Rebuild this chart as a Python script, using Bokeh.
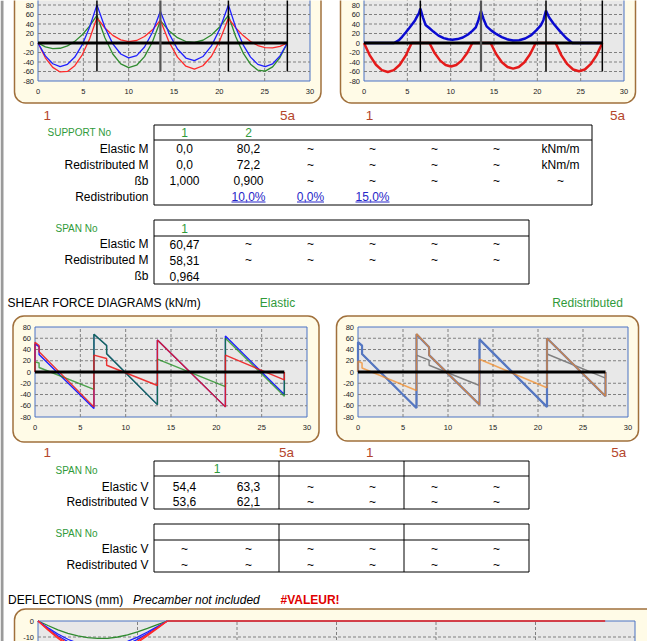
from bokeh.plotting import figure
from bokeh.models import Range1d
from bokeh.embed import file_html
from bokeh.resources import INLINE
from bokeh.core.properties import value

# ---------------- DATA ----------------
SUPPORTS = [0, 6.5, 13.5, 21.0, 27.5]
X_TICKS = [0, 5, 10, 15, 20, 25, 30]
Y_TICKS = [80, 60, 40, 20, 0, -20, -40, -60, -80]
GRID_Y = [-60, -40, -20, 20, 40, 60, 80]
GRID_X = [5, 10, 15, 20, 25]

# Bending moment, elastic (kNm/m)
M_X = [0, 0.81, 1.63, 2.44, 3.25, 4.06, 4.88, 5.69, 6.5,
       7.38, 8.25, 9.13, 10.0, 10.88, 11.75, 12.63, 13.5,
       14.44, 15.38, 16.31, 17.25, 18.19, 19.13, 20.06, 21.0,
       21.81, 22.63, 23.44, 24.25, 25.06, 25.88, 26.69, 27.5]
M_EL_RED = [0, -31.1, -51.4, -61.0, -59.8, -47.7, -24.9, 8.6, 53,
            31.6, 16.1, 6.6, 3.0, 5.3, 13.6, 27.8, 48,
            2.6, -29.8, -48.9, -55.0, -47.9, -27.8, 5.6, 52,
            31.8, 15.6, 3.2, -5.3, -9.8, -10.4, -7.2, 0]
M_EL_BLUE = [0, -27.2, -43.7, -49.6, -44.9, -29.6, -3.6, 33.0, 80.2,
             32.6, -1.9, -23.2, -31.4, -26.5, -8.5, 22.7, 67,
             20.3, -12.6, -31.7, -37.0, -28.5, -6.1, 30.0, 80,
             32.8, -3.8, -29.7, -45.0, -49.7, -43.8, -27.2, 0]
M_EL_GREEN = [0, -8.1, -11.8, -11.1, -6.0, 3.4, 17.3, 35.4, 58,
              10.9, -23.1, -44.1, -52.0, -46.8, -28.6, 2.7, 47,
              26.0, 11.3, 3.1, 1.3, 5.8, 16.8, 34.2, 58,
              13.0, -21.2, -44.6, -57.3, -59.1, -50.2, -30.5, 0]

# Bending moment, redistributed envelopes
MR_POS_X = [0, 3.46, 4.04, 4.4, 4.81, 5.2, 5.58, 5.9, 6.16, 6.35, 6.5,
            6.8, 7.1, 7.5, 8.0, 8.6, 9.2, 9.7, 10.2, 10.8, 11.4, 12.0, 12.5, 12.9, 13.2, 13.5,
            13.8, 14.15, 14.7, 15.3, 15.9, 16.5, 17.2, 17.9, 18.6, 19.3, 19.9, 20.4, 20.7, 21.0,
            21.35, 21.9, 22.6, 23.3, 24.03, 27.5]
MR_POS_Y = [0, 0, 6, 13, 22, 31, 40, 48, 57, 63, 72.2,
            54, 38, 32, 24, 15.5, 10.3, 7.8, 7, 8.2, 11.5, 18, 25.5, 33, 48, 67,
            50, 35, 26, 18.5, 12.5, 8, 5.2, 5.8, 9.5, 16.5, 27, 37, 48, 68,
            54, 40, 25, 11, 0, 0]
MR_NEG_X = [0, 0.69, 1.38, 2.06, 2.75, 3.44, 4.13, 4.81, 5.5,
            7.55, 8.17, 8.79, 9.41, 10.03, 10.64, 11.26, 11.88, 12.5,
            14.61, 15.26, 15.91, 16.56, 17.21, 17.86, 18.51, 19.16, 19.81,
            22.11, 22.78, 23.46, 24.13, 24.81, 25.48, 26.15, 26.83, 27.5]
MR_NEG_Y = [0, -26.7, -45.8, -57.2, -61.0, -57.2, -45.8, -26.7, 0,
            0, -21.7, -37.1, -46.4, -49.5, -46.4, -37.1, -21.7, 0,
            0, -23.6, -40.5, -50.6, -54.0, -50.6, -40.5, -23.6, 0,
            0, -26.0, -44.6, -55.8, -59.5, -55.8, -44.6, -26.0, 0]

# Shear force (kN/m)
V_X = [0, 0, 0.45, 0.45, 6.5, 6.5, 7.9, 7.9, 13.5, 13.5, 21.0, 21.0, 27.5, 27.5]
V_EL_RED = [0, 53, 47, 36, -62, 30, 24, 12, -24, 57, -62, 30, -14, 0]
V_EL_BLUE = [0, 50, 45, 31, -65, 67, 47, 32.5, -58, 57, -62, 64, -40, 0]
V_EL_GREEN = [0, 18, 16, 8, -31, 67, 47, 32.5, -58, 23, -26, 60, -43, 0]
V_RD_GREY = [0, 53, 47, 32, -64, 30, 21, 12, -24, 58, -62, 32, -11, 0]
V_RD_BLUE = [0, 53, 47, 32, -64, 67, 44, 30, -58, 58, -62, 60, -43, 0]
V_RD_ORANGE = [0, 19, 16, 7, -33, 68, 44, 30, -58, 22.5, -28, 60, -43, 0]

# Deflections (mm), span 1 only
D_X = [0, 0.5, 1.0, 1.5, 2.0, 2.5, 3.0, 3.5, 4.0, 4.5, 5.0, 5.5, 6.0, 6.5]
D_GREEN = [0, -2.8, -5.5, -7.7, -9.3, -10.4, -10.9, -10.8, -10.0, -8.7, -6.8, -4.6, -2.3, 0]
D_BLUE_A = [0, -4.8, -9.2, -12.9, -15.8, -17.6, -18.3, -18.0, -16.7, -14.5, -11.5, -7.8, -3.9, 0]
D_BLUE_B = [0, -4.2, -8.1, -11.4, -13.9, -15.5, -16.1, -15.8, -14.7, -12.7, -10.1, -6.9, -3.5, 0]
D_RED_A = [0, -5.6, -10.8, -15.2, -18.6, -20.7, -21.5, -21.1, -19.6, -17.0, -13.5, -9.2, -4.6, 0]
D_RED_B = [0, -5.2, -10.0, -14.0, -17.1, -19.1, -19.8, -19.4, -18.1, -15.7, -12.5, -8.5, -4.3, 0]
D_FLAT_X = [6.5, 28.5]
D_FLAT_Y = [0, 0]
D_TICKS = [0, -10]

# Tables
SUP_HEAD = ["1", "2"]
SUP_ROWS = ["Elastic M", "Redistributed M", "ßb", "Redistribution"]
SUP_ELASTIC = ["0,0", "80,2", "~", "~", "~", "~", "kNm/m"]
SUP_REDIST = ["0,0", "72,2", "~", "~", "~", "~", "kNm/m"]
SUP_BETA = ["1,000", "0,900", "~", "~", "~", "~", "~"]
SUP_PCT = ["10,0%", "0,0%", "15,0%"]
SPANM_HEAD = ["1"]
SPANM_ROWS = ["Elastic M", "Redistributed M", "ßb"]
SPANM_ELASTIC = ["60,47", "~", "~", "~", "~", "~"]
SPANM_REDIST = ["58,31", "~", "~", "~", "~", "~"]
SPANM_BETA = ["0,964"]
V_ROWS = ["Elastic V", "Redistributed V"]
V1_HEAD = ["1"]
V1_ELASTIC = ["54,4", "63,3", "~", "~", "~", "~"]
V1_REDIST = ["53,6", "62,1", "~", "~", "~", "~"]
V2_ELASTIC = ["~", "~", "~", "~", "~", "~"]
V2_REDIST = ["~", "~", "~", "~", "~", "~"]

# ---------------- LAYOUT / STYLE ----------------
FONT = value("Liberation Sans")
PL, PR, PT, PB = 0, 647, 0, 641
CREAM = "#fffbe7"
BROWN = "#a0703c"
PLOTBG = "#e8e8e8"
FRAME = "#4a72c4"
GRIDC = "#808080"
LABC = "#b4462c"
GREEN_T = "#2f9a3a"
COLS = [184, 248, 310, 372, 434, 496, 560]

p = figure(width=PR - PL, height=PB - PT, x_range=Range1d(PL, PR), y_range=Range1d(PB, PT),
           output_backend="svg", toolbar_location=None, min_border=0,
           x_axis_location=None, y_axis_location=None, outline_line_color=None,
           background_fill_color="white", border_fill_color="white")
p.xgrid.visible = False
p.ygrid.visible = False

CH = {
    "m1": ((37.5, 309.5), (80.5, 4.5), (-80, 80)),
    "m2": ((363.5, 623.5), (80.5, 4.5), (-80, 80)),
    "v1": ((34.5, 306.5), (416.5, 326.5), (-80, 80)),
    "v2": ((357.5, 627.5), (416.5, 326.5), (-80, 80)),
    "d": ((37.5, 634.5), (636.5, 620.5), (-10, 0)),
}
xr, yr = {}, {}
for k, ((x0p, x1p), (y0p, y1p), (v0, v1)) in CH.items():
    sx = 30.0 / (x1p - x0p)
    xr[k] = Range1d(0 - (x0p - PL) * sx, 30 + (PR - x1p) * sx)
    sy = (v1 - v0) / (y0p - y1p)
    yr[k] = Range1d(v0 - (PB - y0p) * sy, v1 + (y1p - PT) * sy)
p.extra_x_ranges = xr
p.extra_y_ranges = yr

def kw(k):
    return dict(x_range_name=k, y_range_name=k)

# left grey window edge
p.quad(left=[0], right=[3], top=[0], bottom=[641], fill_color="#9a9a9a", line_color=None)

# cream rounded boxes
p.quad(left=[14, 340, 12.5, 336, 14], right=[320.5, 635, 318.5, 638, 700],
       top=[-30, -30, 315.5, 315.5, 608.5], bottom=[102.5, 102.5, 441.5, 440.5, 720],
       fill_color=CREAM, line_color=BROWN, line_width=1.5, border_radius=11)

def chart(k, top, ytick_list, xticks=True):
    gb = CH[k][2][0] if k != "d" else -40
    p.quad(left=[0], right=[30], bottom=[gb], top=[top],
           fill_color=PLOTBG, line_color=FRAME, line_width=1, **kw(k))
    gy = [g for g in GRID_Y if CH[k][2][0] < g < top] if k != "d" else [-10]
    p.segment(x0=[0] * len(gy), x1=[30] * len(gy), y0=gy, y1=gy, line_color=GRIDC,
              line_dash="3 2", line_width=1, **kw(k))
    p.segment(x0=GRID_X, x1=GRID_X, y0=[gb] * len(GRID_X), y1=[top] * len(GRID_X),
              line_color=GRIDC, line_dash="3 2", line_width=1, **kw(k))
    p.text(x=[0] * len(ytick_list), y=ytick_list, text=[str(t) for t in ytick_list],
           x_offset=-4, text_align="right", text_baseline="middle", text_font=FONT,
           text_font_size="7.5px", text_color="#222222", **kw(k))
    if xticks:
        p.text(x=X_TICKS, y=[CH[k][2][0]] * len(X_TICKS), text=[str(t) for t in X_TICKS],
               y_offset=10, text_align="center", text_baseline="middle", text_font=FONT,
               text_font_size="7.5px", text_color="#222222", **kw(k))

chart("m1", 100, Y_TICKS)
chart("m2", 100, Y_TICKS)
chart("v1", 80, Y_TICKS)
chart("v2", 80, Y_TICKS)
chart("d", 0, D_TICKS, xticks=False)

# moment elastic
p.line(M_X, M_EL_GREEN, line_color="#2e8b2e", line_width=1.3, **kw("m1"))
p.line(M_X, M_EL_RED, line_color="#ff2a2a", line_width=1.3, **kw("m1"))
p.line(M_X, M_EL_BLUE, line_color="#1f1fff", line_width=1.3, **kw("m1"))
# moment redistributed
p.line(MR_POS_X, MR_POS_Y, line_color="#0a0ad0", line_width=2.5, **kw("m2"))
p.line(MR_NEG_X, MR_NEG_Y, line_color="#e41a1a", line_width=2.5, **kw("m2"))

for k in ("m1", "m2"):
    p.line([SUPPORTS[0], SUPPORTS[-1]], [0, 0], line_color="black", line_width=3, **kw(k))
    sup = SUPPORTS[1:]
    p.segment(x0=sup, x1=sup, y0=[-60] * len(sup), y1=[100] * len(sup),
              line_color=["black", "#555555", "black", "black"],
              line_width=[1.5, 2.2, 1.5, 1.5], **kw(k))

# shear elastic
p.line(V_X, V_EL_BLUE, line_color="#1f1fff", line_width=1.4, **kw("v1"))
p.line(V_X, V_EL_GREEN, line_color="#118811", line_width=1.4, line_alpha=0.72, **kw("v1"))
p.line(V_X, V_EL_RED, line_color="#ee1a1a", line_width=1.4, line_alpha=0.88, **kw("v1"))
# shear redistributed
p.line(V_X, V_RD_GREY, line_color="#808080", line_width=1.4, **kw("v2"))
p.line(V_X, V_RD_BLUE, line_color="#5577c2", line_width=2.2, **kw("v2"))
p.line(V_X, V_RD_ORANGE, line_color="#f5891f", line_width=1.6, line_alpha=0.7, **kw("v2"))
for k in ("v1", "v2"):
    p.line([SUPPORTS[0], SUPPORTS[-1]], [0, 0], line_color="black", line_width=3, **kw(k))

# deflections
p.line(D_FLAT_X, D_FLAT_Y, line_color="#e41a1a", line_width=1.5, **kw("d"))
for ys, c in ((D_GREEN, "#2e8b2e"), (D_BLUE_B, "#1f1fff"), (D_BLUE_A, "#1f1fff"),
              (D_RED_B, "#ff2a2a"), (D_RED_A, "#ff2a2a")):
    p.line(D_X, ys, line_color=c, line_width=1.3, **kw("d"))

# chart end labels
p.text(x=[46.7, 287, 369, 617, 46.7, 286, 369.3, 618.3],
       y=[114.5, 114.5, 114.5, 114.5, 452, 452, 452, 452],
       text=["1", "5a", "1", "5a", "1", "5a", "1", "5a"], text_align="center",
       text_baseline="middle", text_font=FONT, text_font_size="13.5px", text_color=LABC)

def txt(x, y, t, size="12px", color="black", align="left", style="normal"):
    p.text(x=x, y=y, text=t, text_align=align, text_baseline="middle", text_font=FONT,
           text_font_size=size, text_color=color, text_font_style=style)

# ---- support table ----
p.quad(left=[153.5], right=[591.5], top=[124.5], bottom=[204.5], fill_color=None,
       line_color="black", line_width=1)
p.segment(x0=[153.5], x1=[591.5], y0=[139.5], y1=[139.5], line_color="black", line_width=1)
txt([47], [131.5], ["SUPPORT No"], size="10px", color=GREEN_T)
txt(COLS[:len(SUP_HEAD)], [131.5] * len(SUP_HEAD), SUP_HEAD, color=GREEN_T, align="center")
txt([148] * 4, [148, 164, 180, 196], SUP_ROWS, align="right")
txt(COLS, [148] * 7, SUP_ELASTIC, align="center")
txt(COLS, [164] * 7, SUP_REDIST, align="center")
txt(COLS, [180] * 7, SUP_BETA, align="center")
txt(COLS[1:4], [196] * 3, SUP_PCT, color="#2626c8", align="center")
uw = [34, 27, 34]
p.segment(x0=[c - w / 2 for c, w in zip(COLS[1:4], uw)], x1=[c + w / 2 for c, w in zip(COLS[1:4], uw)],
          y0=[201.5] * 3, y1=[201.5] * 3, line_color="#2626c8", line_width=1)

# ---- span moment table ----
p.quad(left=[153.5], right=[528.5], top=[219.5], bottom=[283.5], fill_color=None,
       line_color="black", line_width=1)
p.segment(x0=[153.5], x1=[528.5], y0=[235.5], y1=[235.5], line_color="black", line_width=1)
txt([55], [228], ["SPAN No"], size="10px", color=GREEN_T)
txt(COLS[:1], [227.5], SPANM_HEAD, color=GREEN_T, align="center")
txt([148] * 3, [243.5, 259.5, 275.5], SPANM_ROWS, align="right")
txt(COLS[:6], [243.5] * 6, SPANM_ELASTIC, align="center")
txt(COLS[:6], [259.5] * 6, SPANM_REDIST, align="center")
txt(COLS[:1], [275.5], SPANM_BETA, align="center")

# ---- headings ----
txt([7], [302.5], ["SHEAR FORCE DIAGRAMS (kN/m)"])
txt([277, 587], [302.5, 302.5], ["Elastic", "Redistributed"], color=GREEN_T, align="center")
txt([7.5], [599], ["DEFLECTIONS (mm)"])
txt([132.5], [599], ["Precamber not included"], style="italic")
txt([280], [599], ["#VALEUR!"], color="#e00000", style="bold")

# ---- shear tables ----
for top, bot, hline, lab_y, rows_y, el, rd, head in (
        (460.5, 508.5, 475.5, 469.5, (486, 501), V1_ELASTIC, V1_REDIST, V1_HEAD),
        (523.5, 571.5, 539.5, 533, (548.5, 564), V2_ELASTIC, V2_REDIST, [])):
    p.quad(left=[153.5], right=[528.5], top=[top], bottom=[bot], fill_color=None,
           line_color="black", line_width=1)
    p.segment(x0=[153.5, 278.5, 403.5], x1=[528.5, 278.5, 403.5], y0=[hline, top, top],
              y1=[hline, bot, bot], line_color="black", line_width=1)
    txt([55], [lab_y], ["SPAN No"], size="10px", color=GREEN_T)
    if head:
        txt([216.5], [468], head, color=GREEN_T, align="center")
    txt([148, 148], list(rows_y), V_ROWS, align="right")
    txt(COLS[:6], [rows_y[0]] * 6, el, align="center")
    txt(COLS[:6], [rows_y[1]] * 6, rd, align="center")

open("out.html", "w").write(file_html(p, INLINE))
